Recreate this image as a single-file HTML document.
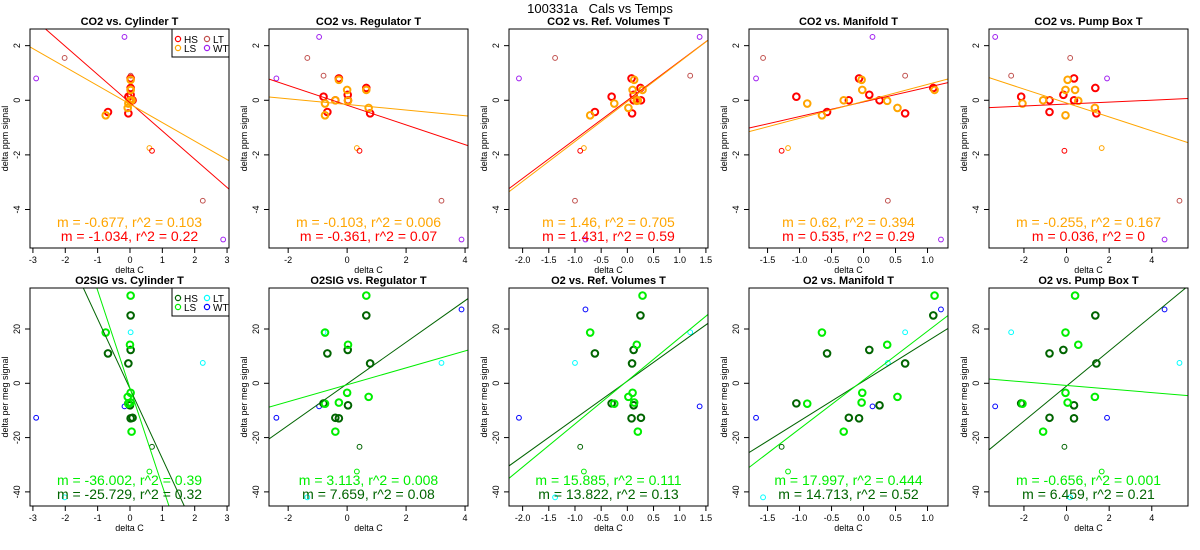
<!DOCTYPE html>
<html><head><meta charset="utf-8"><style>
html,body{margin:0;padding:0;background:#fff;width:1200px;height:550px;overflow:hidden;}
svg{display:block;font-family:"Liberation Sans",Arial,sans-serif;}
</style></head><body>
<svg id="chart" width="1200" height="550" viewBox="0 0 1200 550">
<text x="600" y="13" text-anchor="middle" font-size="13" style="white-space:pre">100331a   Cals vs Temps</text>
</svg>
<script>
// ---- data (shared x per temperature column; y per gas row) ----
const panelTitlesCO2 = ["CO2 vs. Cylinder T","CO2 vs. Regulator T","CO2 vs. Ref. Volumes T","CO2 vs. Manifold T","CO2 vs. Pump Box T"];
const panelTitlesO2 = ["O2SIG vs. Cylinder T","O2SIG vs. Regulator T","O2 vs. Ref. Volumes T","O2 vs. Manifold T","O2 vs. Pump Box T"];
const xTicks = [[-3,-2,-1,0,1,2,3],[-2,0,2,4],[-2.0,-1.5,-1.0,-0.5,0.0,0.5,1.0,1.5],[-1.5,-1.0,-0.5,0.0,0.5,1.0],[-2,0,2,4]];
const xTickLabels = [["-3","-2","-1","0","1","2","3"],["-2","0","2","4"],["-2.0","-1.5","-1.0","-0.5","0.0","0.5","1.0","1.5"],["-1.5","-1.0","-0.5","0.0","0.5","1.0"],["-2","0","2","4"]];
const xLims = [[-3.09,3.06],[-2.65,4.1],[-2.26,1.54],[-1.79,1.32],[-3.64,5.7]];
const hsX = [[0.02,0.02,0.02,-0.05,0.08,0.0,-0.68,-0.05],[-0.28,0.65,0.02,-0.8,-0.4,0.03,-0.67,0.78],[0.08,0.25,0.12,-0.3,0.26,0.12,-0.62,0.09],[-0.07,1.09,0.09,-1.05,-0.23,0.25,-0.57,0.65],[0.35,1.35,-0.15,-2.13,-0.8,0.35,-0.8,1.4]];
const lsX = [[0.02,0.02,0.02,0.0,0.05,-0.05,-0.07,-0.75],[-0.28,0.0,0.65,0.03,-0.4,-0.75,0.73,-0.75],[0.13,0.1,0.29,0.18,0.2,-0.25,0.02,-0.71],[-0.03,-0.02,1.11,0.37,-0.31,-0.88,0.53,-0.65],[0.05,-0.05,0.4,0.55,-1.1,-2.07,1.33,-0.05]];
const ltX = [[-2.02,0.02,2.25],[-1.35,-0.8,3.2],[-1.38,1.2,-1.0],[-1.57,0.65,0.38],[0.17,-2.6,5.3]];
const lsThinX = [0.6,0.33,-0.83,-1.18,1.65];
const hsThinX = [0.68,0.42,-0.9,-1.28,-0.1];
const wtX = [[-0.17,-2.9,2.88],[-0.95,-2.4,3.88],[1.38,-2.07,-0.8],[0.14,-1.68,1.21],[-3.35,1.9,4.6]];
const co2HsY = [0.8,0.45,0.2,0.13,0,0,-0.43,-0.48];
const co2LsY = [0.75,0.38,0.38,-0.02,0,-0.12,-0.28,-0.55];
const co2LtY = [1.55,0.9,-3.68];
const co2LsThinY = -1.75;
const co2HsThinY = -1.85;
const co2WtY = [2.32,0.8,-5.1];
const o2HsY = [-12.9,25,12.3,-7.4,-12.7,-8.1,11,7.3];
const o2LsY = [-7.1,-3.5,32.3,14.2,-17.8,-7.5,-5,18.7];
const o2LtY = [-42,18.8,7.5];
const o2LsThinY = -32.5;
const o2HsThinY = -23.4;
const o2WtY = [-8.5,-12.7,27.2];
const co2HsSlope = [-1.034,-0.361,1.431,0.535,0.036];
const co2HsInt = [-0.09,-0.18,0.0,-0.06,-0.14];
const co2LsSlope = [-0.677,-0.103,1.46,0.62,-0.255];
const co2LsInt = [-0.14,-0.153,-0.05,-0.04,-0.1];
const co2HsText = ["m = -1.034, r^2 = 0.22","m = -0.361, r^2 = 0.07","m = 1.431, r^2 = 0.59","m = 0.535, r^2 = 0.29","m = 0.036, r^2 = 0"];
const co2LsText = ["m = -0.677, r^2 = 0.103","m = -0.103, r^2 = 0.006","m = 1.46, r^2 = 0.705","m = 0.62, r^2 = 0.394","m = -0.255, r^2 = 0.167"];
const o2HsSlope = [-25.729,7.659,13.822,14.713,6.459];
const o2HsInt = [-2.0,-0.2,0.8,0.8,-1.0];
const o2LsSlope = [-36.002,3.113,15.885,17.997,-0.656];
const o2LsInt = [-1.8,-0.55,0.9,1.2,-0.8];
const o2HsText = ["m = -25.729, r^2 = 0.32","m = 7.659, r^2 = 0.08","m = 13.822, r^2 = 0.13","m = 14.713, r^2 = 0.52","m = 6.459, r^2 = 0.21"];
const o2LsText = ["m = -36.002, r^2 = 0.39","m = 3.113, r^2 = 0.008","m = 15.885, r^2 = 0.111","m = 17.997, r^2 = 0.444","m = -0.656, r^2 = 0.001"];

const NS = "http://www.w3.org/2000/svg";
const svg = document.getElementById('chart');
function mk(tag, attrs, parent, text){
  const e = document.createElementNS(NS, tag);
  for (const k in attrs) e.setAttribute(k, attrs[k]);
  if (text !== undefined) e.textContent = text;
  (parent||svg).appendChild(e);
  return e;
}
const boxLeft = [30,269,509,749,989];
const boxW = 199;

function drawPanel(col, row){
  const isCO2 = row === 0;
  const top = isCO2 ? 29 : 288, bot = isCO2 ? 248 : 506;
  const yLim = isCO2 ? [-5.41,2.61] : [-45.2,35.1];
  const yT = isCO2 ? [2,0,-2,-4] : [20,0,-20,-40];
  const L = boxLeft[col], R = L + boxW;
  const xl = xLims[col];
  const sx = v => L + (v - xl[0]) / (xl[1] - xl[0]) * (R - L);
  const sy = v => bot - (v - yLim[0]) / (yLim[1] - yLim[0]) * (bot - top);
  const g = mk('g', {});
  
  
  const title = mk('text', {x:(L+R)/2, y:top-4, 'text-anchor':'middle', 'font-size':11, 'font-weight':'bold'}, g, (isCO2?panelTitlesCO2:panelTitlesO2)[col]);
  
  
  const cid = 'clip' + row + col;
  const cp = mk('clipPath', {id:cid}, g);
  mk('rect', {x:L, y:top, width:R-L, height:bot-top}, cp);
  const plot = mk('g', {'clip-path':'url(#'+cid+')'}, g);
  const xa = mk('g', {}, g);
  
  
  xTicks[col].forEach((t,i) => {
    const x = sx(t);
    mk('line', {x1:x, x2:x, y1:bot, y2:bot+5, stroke:'#000'}, xa);
    mk('text', {x:x, y:bot+15, 'text-anchor':'middle', 'font-size':9}, xa, xTickLabels[col][i]);
  });
  const xlab = mk('text', {x:(L+R)/2, y:bot+25, 'text-anchor':'middle', 'font-size':9}, g, 'delta C');
  
  
  const ya = mk('g', {}, g);
  
  
  yT.forEach(t => {
    const y = sy(t);
    mk('line', {x1:L-5, x2:L, y1:y, y2:y, stroke:'#000'}, ya);
    mk('text', {x:L-10, y:y, 'text-anchor':'middle', 'font-size':9, transform:'rotate(-90 '+(L-10)+' '+y+')'}, ya, String(t));
  });
  const ylab = mk('text', {x:L-22, y:(top+bot)/2, 'text-anchor':'middle', 'font-size':9, transform:'rotate(-90 '+(L-22)+' '+((top+bot)/2)+')'}, g, isCO2 ? 'delta ppm signal' : 'delta per meg signal');
  
  

  const cHS = isCO2 ? '#ff0000' : '#006400';
  const cLS = isCO2 ? '#ffa500' : '#00ee00';
  const cLT = isCO2 ? '#c0504d' : '#00ffff';
  const cWT = isCO2 ? '#a020f0' : '#0000ff';
  const hsY = isCO2 ? co2HsY : o2HsY, lsY = isCO2 ? co2LsY : o2LsY;
  const ltY = isCO2 ? co2LtY : o2LtY, wtY = isCO2 ? co2WtY : o2WtY;
  function pt(x, y, c, thick, name){
    const e = mk('circle', {cx:sx(x), cy:sy(y), r: thick?3.3:2.4, fill:'none', stroke:c, 'stroke-width': thick?2:1}, plot);
    
    
  }
  ltX[col].forEach((x,i) => pt(x, ltY[i], cLT, false, 'point-lt'));
  wtX[col].forEach((x,i) => pt(x, wtY[i], cWT, false, 'point-wt'));
  pt(lsThinX[col], isCO2?co2LsThinY:o2LsThinY, cLS, false, 'point-ls-thin');
  pt(hsThinX[col], isCO2?co2HsThinY:o2HsThinY, cHS, false, 'point-hs-thin');
  hsX[col].forEach((x,i) => pt(x, hsY[i], cHS, true, 'point-hs'));
  lsX[col].forEach((x,i) => pt(x, lsY[i], cLS, true, 'point-ls'));
  function fit(m, b, c, name){
    const e = mk('line', {x1:sx(xl[0]), y1:sy(b + m*xl[0]), x2:sx(xl[1]), y2:sy(b + m*xl[1]), stroke:c, 'stroke-width':1}, plot);
    
    
  }
  fit((isCO2?co2HsSlope:o2HsSlope)[col], (isCO2?co2HsInt:o2HsInt)[col], cHS, 'fit-line-hs');
  fit((isCO2?co2LsSlope:o2LsSlope)[col], (isCO2?co2LsInt:o2LsInt)[col], cLS, 'fit-line-ls');
  const cx = (L+R)/2;
  const a1 = mk('text', {x:cx, y:bot-21, 'text-anchor':'middle', 'font-size':14, fill:cLS}, g, (isCO2?co2LsText:o2LsText)[col]);
  
  
  const a2 = mk('text', {x:cx, y:bot-7, 'text-anchor':'middle', 'font-size':14, fill:cHS}, g, (isCO2?co2HsText:o2HsText)[col]);
  
  
  if (col === 0){
    const lg = mk('g', {}, g);
    
    
    mk('rect', {x:R-57, y:top, width:57, height:28, fill:'#fff', stroke:'#000'}, lg);
    const ents = [['HS',cHS,0,0],['LT',cLT,29,0],['LS',cLS,0,9],['WT',cWT,29,9]];
    ents.forEach(en => {
      const e = mk('g', {}, lg);
      
      
      mk('circle', {cx:R-51+en[2], cy:top+10+en[3], r:2.6, fill:'none', stroke:en[1], 'stroke-width':1.2}, e);
      mk('text', {x:R-45+en[2], y:top+14+en[3], 'font-size':10}, e, en[0]);
    });
  }
  mk('rect', {x:L, y:top, width:R-L, height:bot-top, fill:'none', stroke:'#000'}, g);
}
for (let r = 0; r < 2; r++) for (let c = 0; c < 5; c++) drawPanel(c, r);
</script>
</body></html>
